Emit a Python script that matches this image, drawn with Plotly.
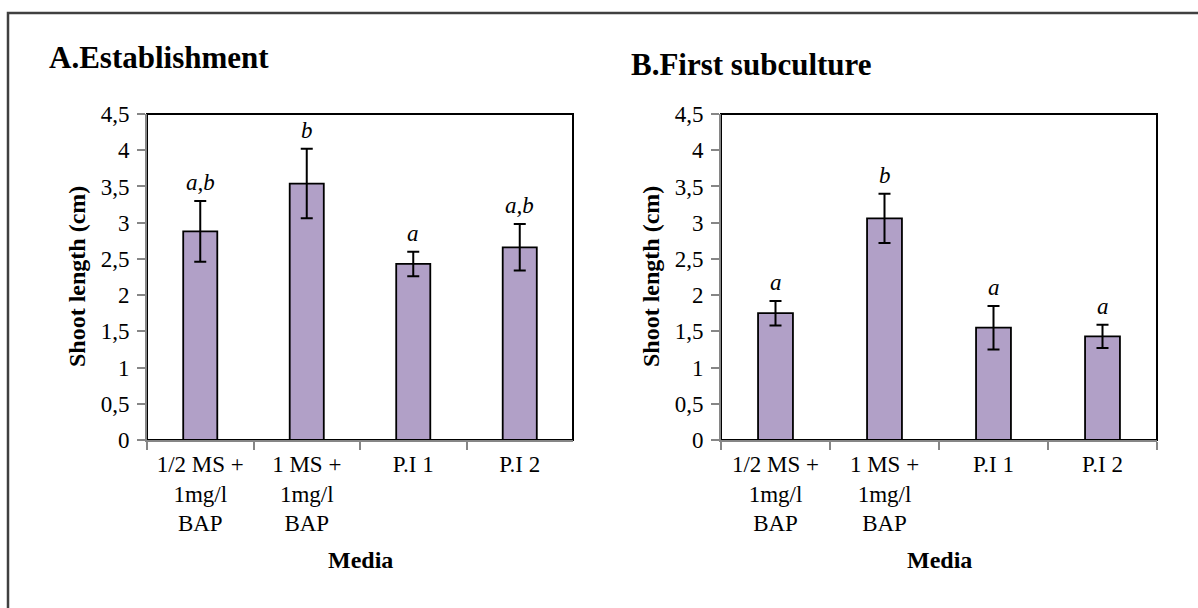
import plotly.graph_objects as go

# media categories (shared by both panels)
media = ["1/2 MS +<br>1mg/l<br>BAP", "1 MS +<br>1mg/l<br>BAP", "P.I 1", "P.I 2"]

# A. Establishment
est_mean = [2.88, 3.54, 2.43, 2.66]
est_err = [0.42, 0.48, 0.17, 0.32]
est_letters = ["a,b", "b", "a", "a,b"]

# B. First subculture
sub_mean = [1.75, 3.06, 1.55, 1.43]
sub_err = [0.17, 0.34, 0.30, 0.16]
sub_letters = ["a", "b", "a", "a"]

y_ticks = [0, 0.5, 1, 1.5, 2, 2.5, 3, 3.5, 4, 4.5]
y_ticktext = ["0", "0,5", "1", "1,5", "2", "2,5", "3", "3,5", "4", "4,5"]

W, H = 1198, 608
FONT = "Liberation Serif, Times New Roman, serif"
BAR = "#B1A0C7"
AXIS_GREY = "#868686"

# pixel boxes of the two plot areas
panels = [
    dict(x0=147, x1=573, title="A.Establishment", tx=47, ty=57,
         mean=est_mean, err=est_err, letters=est_letters),
    dict(x0=721, x1=1157, title="B.First subculture", tx=629, ty=64,
         mean=sub_mean, err=sub_err, letters=sub_letters),
]
y_top, y_bot = 114, 440

fig = go.Figure()
annotations = []
shapes = []

for i, p in enumerate(panels):
    n = "" if i == 0 else str(i + 1)
    xa, ya = "x" + n, "y" + n

    fig.add_trace(go.Bar(
        x=media, y=p["mean"], xaxis=xa, yaxis=ya,
        marker=dict(color=BAR, line=dict(color="black", width=1.8)),
        error_y=dict(type="data", array=p["err"], color="black",
                     thickness=2, width=6),
        showlegend=False, hoverinfo="skip",
    ))
    # significance letters above the error bars
    for cat, m, e, t in zip(media, p["mean"], p["err"], p["letters"]):
        annotations.append(dict(x=cat, y=m + e, xref=xa, yref=ya,
                                text="<i>%s</i>" % t, showarrow=False,
                                yanchor="bottom", yshift=4,
                                font=dict(family=FONT, size=23, color="black")))

    dom_x = [p["x0"] / W, p["x1"] / W]
    dom_y = [1 - y_bot / H, 1 - y_top / H]
    fig.update_layout(**{
        "xaxis" + n: dict(
            domain=dom_x, anchor=ya, type="category", tickson="boundaries",
            ticks="outside", ticklen=8, tickcolor=AXIS_GREY, tickwidth=2,
            showline=True, linecolor=AXIS_GREY, linewidth=2,
            showgrid=False, tickangle=0, ticklabelstandoff=2,
            automargin=False, fixedrange=True,
            tickfont=dict(family=FONT, size=23, color="black"),
        ),
        "yaxis" + n: dict(
            domain=dom_y, anchor=xa, range=[0, 4.5],
            tickvals=y_ticks, ticktext=y_ticktext,
            ticks="outside", ticklen=8, tickcolor=AXIS_GREY, tickwidth=2,
            showline=True, linecolor=AXIS_GREY, linewidth=2,
            showgrid=False, zeroline=False, ticklabelstandoff=3,
            automargin=False, fixedrange=True,
            tickfont=dict(family=FONT, size=23, color="black"),
        ),
    })

    # black plot-area frame (top and right sides show)
    shapes.append(dict(type="rect", xref="paper", yref="paper",
                       x0=dom_x[0], x1=dom_x[1], y0=dom_y[0], y1=dom_y[1],
                       line=dict(color="black", width=2), layer="below"))

    annotations.append(dict(text="<b>%s</b>" % p["title"], x=p["tx"] / W,
                            y=1 - p["ty"] / H, xref="paper", yref="paper",
                            xanchor="left", yanchor="middle", showarrow=False,
                            font=dict(family=FONT, size=31, color="black")))
    annotations.append(dict(text="<b>Shoot length (cm)</b>",
                            x=(p["x0"] - 70) / W, y=(dom_y[0] + dom_y[1]) / 2,
                            xref="paper", yref="paper", textangle=-90,
                            xanchor="center", yanchor="middle", showarrow=False,
                            font=dict(family=FONT, size=24, color="black")))
    annotations.append(dict(text="<b>Media</b>",
                            x=(p["x0"] + p["x1"]) / 2 / W, y=1 - 560 / H,
                            xref="paper", yref="paper",
                            xanchor="center", yanchor="middle", showarrow=False,
                            font=dict(family=FONT, size=24, color="black")))

# outer frame, only top and left edges fall inside the picture
shapes.append(dict(type="rect", xref="paper", yref="paper",
                   x0=8 / W, x1=1.2, y0=-0.2, y1=1 - 13 / H,
                   line=dict(color="#404040", width=2.5)))

fig.update_layout(
    width=W, height=H, autosize=False,
    margin=dict(l=0, r=0, t=0, b=0, pad=0),
    paper_bgcolor="white", plot_bgcolor="white",
    bargap=0.68,
    annotations=annotations, shapes=shapes,
    font=dict(family=FONT, color="black"),
)

fig.write_html("out.html", config={"displayModeBar": False},
               post_script="document.body.style.margin='0';")
